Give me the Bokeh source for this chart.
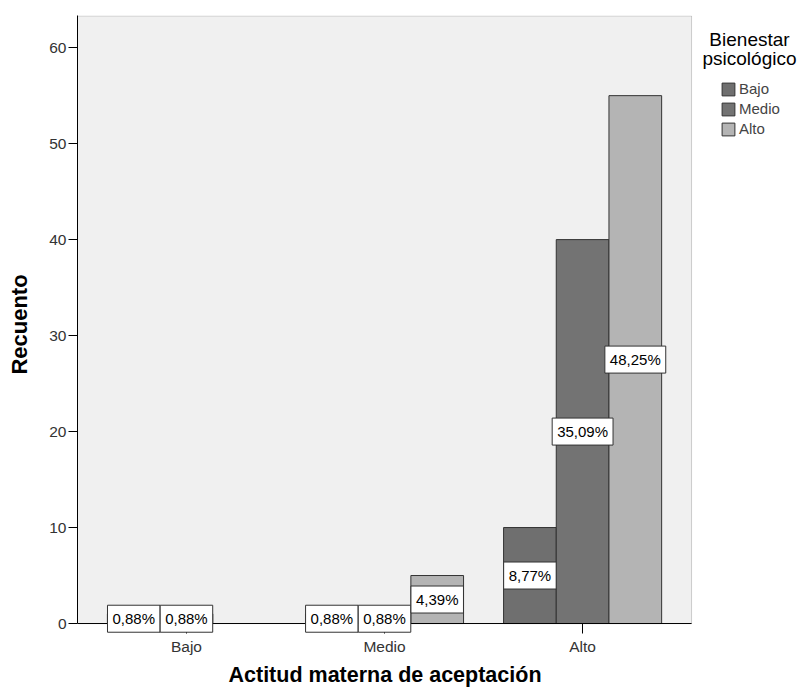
from bokeh.plotting import figure
from bokeh.models import (ColumnDataSource, Range1d, Label, Title, BoxAnnotation,
                          Legend, LegendItem, FixedTicker)
from bokeh.transform import dodge
from bokeh.embed import file_html
from bokeh.resources import INLINE

# ---- data ----
categories = ["Bajo", "Medio", "Alto"]          # Actitud materna de aceptación
series = ["Bajo", "Medio", "Alto"]              # Bienestar psicológico
counts_bajo = [1, 1, 10]
counts_medio = [1, 1, 40]
counts_alto = [0, 5, 55]
y_ticks = [0, 10, 20, 30, 40, 50, 60]

colors = ["#6f6f6f", "#737373", "#b4b4b4"]
FONT = "Liberation Sans"

total = sum(counts_bajo) + sum(counts_medio) + sum(counts_alto)
series_counts = [counts_bajo, counts_medio, counts_alto]
cat_x = [i + 1 for i in range(len(categories))]

# plot-area extents (data units); the frame extends further right for the legend
X0, X1 = 0.45, len(categories) + 0.55
Y0, Y1 = 0.0, 63.3

p = figure(x_range=Range1d(X0, 4.10), y_range=Range1d(-1.04, 63.35),
           width=800, height=689,
           min_border_left=77, min_border_top=15, min_border_right=0, min_border_bottom=56,
           output_backend="svg", toolbar_location=None, tools="")

p.background_fill_color = "white"
p.border_fill_color = "white"
p.outline_line_color = None
p.grid.visible = False

# grey plot area with outline
p.add_layout(BoxAnnotation(left=X0, right=X1, bottom=Y0, top=Y1, level="underlay",
                           fill_color="#f0f0f0", fill_alpha=1.0,
                           line_color="#666666", line_width=1))

bw = 0.266
offsets = [-bw, 0.0, bw]
legend_items = []
for s, cnts, col, off in zip(series, series_counts, colors, offsets):
    xs = [x for x, v in zip(cat_x, cnts) if v > 0]
    vals = [v for v in cnts if v > 0]
    src = ColumnDataSource(dict(x=xs, val=vals))
    r = p.vbar(x=dodge("x", off), top="val", bottom=0, width=bw,
               source=src, fill_color=col, line_color="#333333", line_width=1)
    legend_items.append(LegendItem(label=s, renderers=[r]))

# x baseline at zero
p.segment(x0=X0, y0=0, x1=X1, y1=0, line_color="black", line_width=1)

# percentage labels (centred in each bar)
for cnts, off in zip(series_counts, offsets):
    for xc, v in zip(cat_x, cnts):
        if v <= 0:
            continue
        lab = ("%.2f%%" % (100.0 * v / total)).replace(".", ",")
        p.add_layout(Label(x=xc + off, y=v / 2.0, text=lab,
                           text_align="center", text_baseline="middle",
                           text_font=FONT, text_font_size="15px", text_color="black",
                           background_fill_color="white", border_line_color="#333333",
                           border_line_width=1, padding=5))

# axes
p.yaxis.ticker = FixedTicker(ticks=y_ticks)
p.xaxis.ticker = FixedTicker(ticks=cat_x)
p.xaxis.major_label_overrides = {x: c for x, c in zip(cat_x, categories)}
for ax in (p.xaxis[0], p.yaxis[0]):
    ax.axis_line_color = "black"
    ax.major_tick_line_color = "black"
    ax.minor_tick_line_color = None
    ax.major_label_text_font = FONT
    ax.major_label_text_font_size = "15.5px"
    ax.major_label_text_color = "#333333"
    ax.axis_label_text_font = FONT
    ax.axis_label_text_font_style = "bold"
    ax.axis_label_text_font_size = "22px"
    ax.axis_label_text_color = "black"

p.yaxis.bounds = (Y0, Y1)
p.yaxis.major_tick_in = 0
p.yaxis.major_tick_out = 9
p.yaxis.major_label_standoff = 2
p.yaxis.axis_label = "Recuento"
p.yaxis.axis_label_standoff = 14

p.xaxis.axis_line_color = None
p.xaxis.major_tick_in = 10
p.xaxis.major_tick_out = 0
p.xaxis.major_label_standoff = 4

p.add_layout(Title(text="Actitud materna de aceptación", align="left", offset=151,
                   text_font=FONT, text_font_style="bold", text_font_size="21.5px",
                   text_color="black", standoff=6), "below")

# legend (inside the widened frame, right of the plot area)
legend = Legend(items=legend_items, location=(643, 495),
                glyph_width=16, glyph_height=16, label_height=19, spacing=1,
                label_standoff=3, padding=0, margin=0,
                label_text_font=FONT, label_text_font_size="15px",
                border_line_color=None, background_fill_alpha=0)
p.add_layout(legend, "center")

for txt, yy in (("Bienestar", 594), ("psicológico", 575)):
    p.add_layout(Label(x=672, y=yy, x_units="screen", y_units="screen", text=txt,
                       text_align="center", text_baseline="middle",
                       text_font=FONT, text_font_size="19px", text_color="black"))

open("out.html", "w").write(file_html(p, INLINE))
